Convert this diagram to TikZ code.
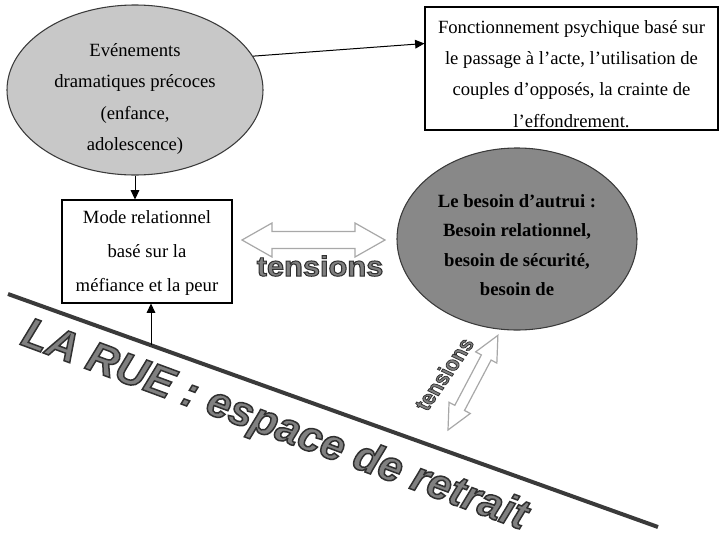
\documentclass[tikz,border=0pt]{standalone}
\usepackage{fontspec}
\setmainfont{Liberation Serif}
\newfontfamily\ruesans{Liberation Sans}[FakeBold=3.5]
\usetikzlibrary{shapes.geometric,arrows.meta,calc}
\definecolor{lightfill}{HTML}{C8C8C8}
\definecolor{darkfill}{HTML}{888888}
\definecolor{edge}{HTML}{3A3A3A}
\definecolor{hollow}{HTML}{A8A8A8}
\definecolor{wordfill}{HTML}{808080}
\newcommand\darkstroke{\special{pdf:code 0.19 0.19 0.19 RG}}
\begin{document}
\begin{tikzpicture}[x=0.75pt,y=-0.75pt,
 txt/.style={font=\fontsize{14}{23.4}\selectfont, align=center, inner sep=0pt},
 blob/.style={ellipse, draw=edge, line width=0.8pt, inner sep=0pt},
 rbox/.style={draw=black, line width=0.8pt, inner sep=0pt},
 conn/.style={-{Triangle[length=7pt,width=6.5pt]}, line width=0.75pt},
 hollowarrow/.style={draw=hollow, fill=white, line width=0.9pt, line join=miter},
 wfill/.style={text=wordfill, inner sep=0pt},
]
\useasboundingbox (0,0) rectangle (726,533);

% ground line
\coordinate (g1) at (8,294);
\coordinate (g2) at (658,527);
\draw[edge, line width=3pt] (g1) -- (g2);

% big word
\node[wfill, font=\ruesans\bfseries\itshape\fontsize{32}{32}\selectfont, rotate=-20.3, anchor=base west] (rue) at (19,344) {\darkstroke LA RUE : espace de retrait};

% nodes
\node[blob, fill=lightfill, minimum width=192pt, minimum height=127.5pt] (e1) at (135,90) {};
\node[txt] (e1t) at (135,99) {Evénements\\dramatiques précoces\\(enfance,\\adolescence)};

\node[rbox, minimum width=219.75pt, minimum height=92.25pt] (b1) at (571.5,68.5) {};
\node[txt] (b1t) at (571.5,74) {Fonctionnement psychique basé sur\\le passage à l’acte, l’utilisation de\\couples d’opposés, la crainte de\\l’effondrement.};

\node[rbox, minimum width=127.5pt, minimum height=77.25pt] (b2) at (147,251.5) {};
\node[txt, font=\fontsize{14}{25.5}\selectfont] (b2t) at (147,253) {Mode relationnel\\basé sur la\\méfiance et la peur};

\node[blob, fill=darkfill, minimum width=180pt, minimum height=136.5pt] (e2) at (517,239) {};
\node[txt, font=\bfseries\fontsize{14}{22}\selectfont] (e2t) at (517,245) {Le besoin d’autrui :\\Besoin relationnel,\\besoin de sécurité,\\besoin de};

% connectors
\draw[conn] (e1.16) -- ($(b1.west)+(0,-25)$);
\draw[conn] (e1.south) -- (e1.south |- b2.north);
\coordinate (gp) at (151,345);
\draw[conn] (gp) -- (gp |- b2.south);

% hollow double arrows
\begin{scope}[shift={(242,240)}]
 \draw[hollowarrow] (0,0) -- (30,-17) -- (30,-8.5) -- (113,-8.5) -- (113,-17) -- (143,0) -- (113,17) -- (113,8.5) -- (30,8.5) -- (30,17) -- cycle;
\end{scope}
\begin{scope}[shift={(448,430)}, rotate=62.2]
 \draw[hollowarrow] (0,0) -- (25,-12) -- (25,-5.5) -- (82,-5.5) -- (82,-12) -- (107,0) -- (82,12) -- (82,5.5) -- (25,5.5) -- (25,12) -- cycle;
\end{scope}

% tensions labels
\node[wfill, font=\ruesans\bfseries\fontsize{21}{21}\selectfont, xscale=1.1] (t1) at (320,266) {\darkstroke tensions};
\node[wfill, font=\ruesans\bfseries\fontsize{14.5}{14.5}\selectfont, xscale=1.2, rotate=60] (t2) at (444,374) {\darkstroke tensions};
\end{tikzpicture}
\end{document}
